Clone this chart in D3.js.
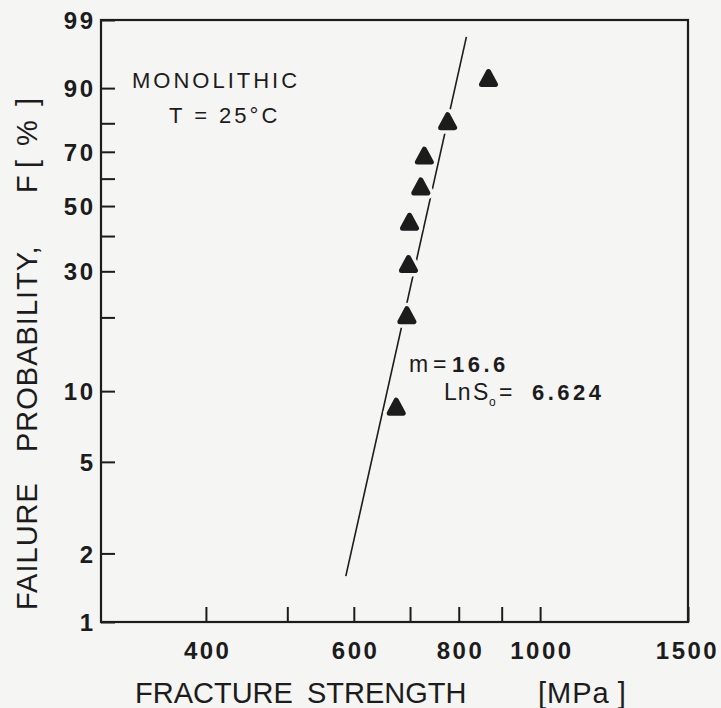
<!DOCTYPE html>
<html>
<head>
<meta charset="utf-8">
<script src="https://cdn.jsdelivr.net/npm/d3@7"></script>
<style>
  html, body { margin: 0; padding: 0; background: #f5f5f3; }
  svg { display: block; font-family: "Liberation Sans", Arial, Helvetica, sans-serif; }
</style>
</head>
<body>
<svg id="chart" width="721" height="708"></svg>
<script>
// Failure probability ticks (percent) on the Weibull probability axis
const probTicks = [1, 2, 5, 10, 20, 30, 40, 50, 60, 70, 80, 90, 99];
const probLabels = [1, 2, 5, 10, 30, 50, 70, 90, 99];

// Fracture strength ticks (MPa) on the logarithmic axis
const strengthTicks = [400, 500, 600, 700, 800, 900, 1000, 1500];
const strengthLabels = [400, 600, 800, 1000, 1500];

// Specimens: fracture strength (MPa) and failure probability (%)
const strength = [674, 694, 697, 699, 721, 728, 776, 868];
const failureProb = [8.6, 20.4, 31.9, 44.6, 57.1, 68.6, 80.7, 92.2];

// Weibull fit parameters and the strength span of the fitted line
const weibullM = 16.6;
const lnS0 = 6.624;
const fitStrength = [587, 817];

const ink = "#1c1c1c";
const paper = "#f5f5f3";

// Weibull transform: ln(-ln(1 - F))
const W = F => Math.log(-Math.log(1 - F / 100));

const plot = { left: 101, top: 20, right: 688, bottom: 622 };

const x = d3.scaleLog().domain([300, 1500]).range([plot.left, plot.right]);
const y = d3.scaleLinear().domain([W(1), W(99)]).range([plot.bottom, plot.top]);

const svg = d3.select("#chart");
svg.append("rect").attr("width", 721).attr("height", 708).attr("fill", paper);

// Y axis (ticks pointing into the plot)
const yAxis = d3.axisLeft(y)
  .tickValues(probTicks.map(W))
  .tickSizeInner(-14)
  .tickSizeOuter(0)
  .tickPadding(5.5)
  .tickFormat((w, i) => probLabels.includes(probTicks[i]) ? String(probTicks[i]) : "");

const gy = svg.append("g")
  .attr("transform", `translate(${plot.left},0)`)
  .call(yAxis);
gy.select(".domain").remove();
gy.selectAll(".tick line").attr("stroke", ink).attr("stroke-width", 2);
gy.selectAll(".tick text")
  .attr("fill", ink)
  .attr("dy", "0.36em")
  .style("font-family", '"Liberation Sans", Arial, sans-serif')
  .style("font-size", "24px")
  .style("font-weight", "bold")
  .style("letter-spacing", "2.5px");

// X axis (log scale, ticks pointing into the plot)
const xAxis = d3.axisBottom(x)
  .tickValues(strengthTicks)
  .tickSizeInner(-15)
  .tickSizeOuter(0)
  .tickPadding(20)
  .tickFormat(d => strengthLabels.includes(d) ? String(d) : "");

const gx = svg.append("g")
  .attr("transform", `translate(0,${plot.bottom})`)
  .call(xAxis);
gx.select(".domain").remove();
gx.selectAll(".tick line").attr("stroke", ink).attr("stroke-width", 2);
gx.selectAll(".tick text")
  .attr("fill", ink)
  .attr("dx", d => d === 1500 ? "-1" : "1.25")
  .style("font-family", '"Liberation Sans", Arial, sans-serif')
  .style("font-size", "24px")
  .style("font-weight", "bold")
  .style("letter-spacing", "2.5px");

// Plot frame
svg.append("rect")
  .attr("x", plot.left).attr("y", plot.top)
  .attr("width", plot.right - plot.left)
  .attr("height", plot.bottom - plot.top)
  .attr("fill", "none")
  .attr("stroke", ink)
  .attr("stroke-width", 2.2);

// Weibull fit line: W = m (ln S - ln S0)
const fitLine = fitStrength.map(s => ({ s, w: weibullM * (Math.log(s) - lnS0) }));
svg.append("path")
  .datum(fitLine)
  .attr("fill", "none")
  .attr("stroke", ink)
  .attr("stroke-width", 1.6)
  .attr("d", d3.line().x(d => x(d.s)).y(d => y(d.w)));

// Rounded, filled triangle markers with a paper-coloured halo
function triangle(w, h) {
  const p = d3.path();
  p.moveTo(0, -h / 2);
  p.lineTo(w / 2, h / 2);
  p.lineTo(-w / 2, h / 2);
  p.closePath();
  return p.toString();
}
const pts = strength.map((s, i) => ({ s, f: failureProb[i] }));
const tri = triangle(14, 13);

svg.append("g").selectAll("path")
  .data(pts).join("path")
  .attr("transform", d => `translate(${x(d.s)},${y(W(d.f))})`)
  .attr("d", tri)
  .attr("fill", paper)
  .attr("stroke", paper)
  .attr("stroke-width", 12)
  .attr("stroke-linejoin", "round");

svg.append("g").selectAll("path")
  .data(pts).join("path")
  .attr("transform", d => `translate(${x(d.s)},${y(W(d.f))})`)
  .attr("d", tri)
  .attr("fill", ink)
  .attr("stroke", ink)
  .attr("stroke-width", 5)
  .attr("stroke-linejoin", "round");

// Annotations
const note = svg.append("g").attr("fill", ink).style("font-size", "22px").style("letter-spacing", "3px");
note.append("text").attr("x", 132).attr("y", 88).text("MONOLITHIC");
note.append("text").attr("x", 169).attr("y", 123).attr("xml:space", "preserve").text("T = 25°C");

const fit = svg.append("g").attr("fill", ink).style("font-size", "23px");
const t1 = fit.append("text").attr("y", 372);
t1.append("tspan").attr("x", 409).text("m");
t1.append("tspan").attr("x", 433).text("=");
t1.append("tspan").attr("x", 452).style("font-weight", "bold").style("font-size", "22px").style("letter-spacing", "3.5px")
  .text(weibullM.toFixed(1));

const t2 = fit.append("text").attr("y", 400);
t2.append("tspan").attr("x", 444).style("letter-spacing", "1px").text("Ln");
t2.append("tspan").attr("x", 473).text("S");
t2.append("tspan").attr("x", 489).attr("dy", 6).style("font-size", "12px").text("o");
t2.append("tspan").attr("x", 499).attr("dy", -6).text("=");
t2.append("tspan").attr("x", 532).style("font-weight", "bold").style("font-size", "22px").style("letter-spacing", "3.5px")
  .text(lnS0.toFixed(3));

// Axis titles
const titles = svg.append("g").attr("fill", ink).style("font-size", "29px");
titles.append("text").attr("x", 135).attr("y", 703).text("FRACTURE");
titles.append("text").attr("x", 307).attr("y", 703).text("STRENGTH");
const mpa = titles.append("text").attr("x", 538).attr("y", 703);
mpa.append("tspan").style("letter-spacing", "1px").text("[MPa");
mpa.append("tspan").attr("dx", 8).text("]");

const yt = titles.append("g").attr("transform", "rotate(-90)");
yt.append("text").attr("x", -610).attr("y", 37).style("letter-spacing", "1px").text("FAILURE");
yt.append("text").attr("x", -452).attr("y", 37).style("letter-spacing", "1px").text("PROBABILITY,");
yt.append("text").attr("x", -193).attr("y", 37).text("F");
yt.append("text").attr("x", -168).attr("y", 37).attr("xml:space", "preserve").style("letter-spacing", "3px").text("[ % ]");
</script>
</body>
</html>
